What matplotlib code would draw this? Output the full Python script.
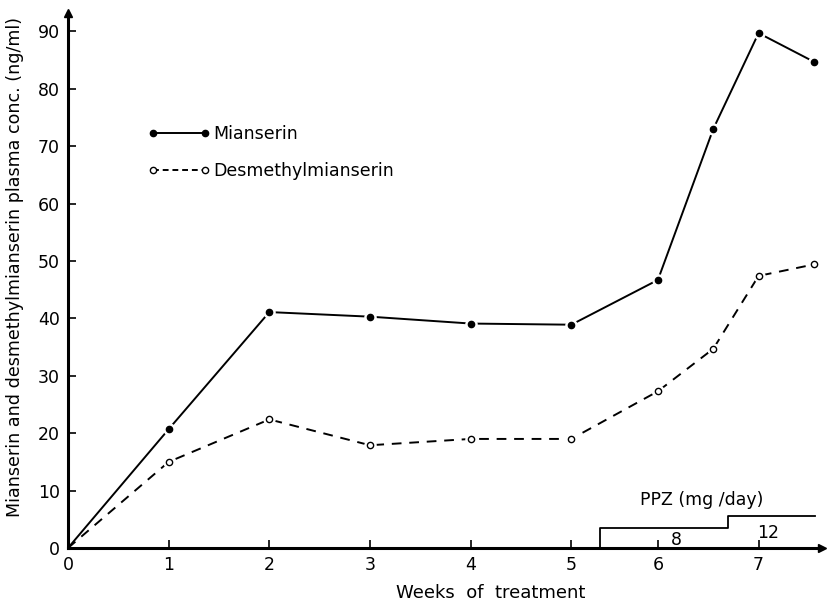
import numpy as np
import matplotlib
matplotlib.use("Agg")
import matplotlib.pyplot as plt
from matplotlib.lines import Line2D

# values
weeks = [0, 1, 2, 3, 4, 5, 6, 6.55, 7, 7.55]
mianserin = [0, 20.7, 41.1, 40.3, 39.1, 38.9, 46.7, 73.0, 89.7, 84.7]
desmethyl = [0, 15.0, 22.4, 17.9, 19.0, 19.0, 27.3, 34.7, 47.4, 49.4]

ppz_weeks = [5.33, 5.33, 6.70, 6.70, 7.56]
ppz_level = [0, 3.5, 3.5, 5.6, 5.6]
ppz_doses = ["8", "12"]
ppz_label_x = [6.18, 7.09]
ppz_label_y = [1.4, 2.6]

x_ticks = [0, 1, 2, 3, 4, 5, 6, 7]
y_ticks = [0, 10, 20, 30, 40, 50, 60, 70, 80, 90]

# the printed axis has a shorter gap between week 5 and week 6
src = [-10, 0, 5, 6, 20]
dst = [-10, 0, 5, 5.86, 19.86]
def fwd(x):
    return np.interp(x, src, dst)
def inv(x):
    return np.interp(x, dst, src)

plt.rcParams['font.family'] = ['DejaVu Sans']
fig = plt.figure(figsize=(8.30, 6.01), dpi=100)
ax = fig.add_axes([68/830, 53/601, 754/830, 535/601])
ax.set_xscale('function', functions=(fwd, inv))

def draw(x, y, ls, face):
    ax.plot(x, y, color='black', lw=1.4, ls=ls, zorder=2)
    ax.plot(x[1:], y[1:], ls='none', marker='o', ms=8, mfc='white', mec='white', zorder=3)
    ax.plot(x[1:], y[1:], ls='none', marker='o', ms=4.5, mfc=face, mec='black', mew=1.0, zorder=4)

draw(weeks, mianserin, '-', 'black')
draw(weeks, desmethyl, (0, (5, 4)), 'white')

ax.plot(ppz_weeks, ppz_level, color='black', lw=1.3, zorder=2)
for t, x, y in zip(ppz_doses, ppz_label_x, ppz_label_y):
    ax.text(x, y, t, ha='center', va='center', fontsize=12.5)
ax.text(6.43, 8.4, "PPZ (mg /day)", ha='center', va='center', fontsize=12.5)

ax.set_xlim(0, 7.63)
ax.set_ylim(0, 93.2)
ax.set_xticks(x_ticks)
ax.set_yticks(y_ticks)
ax.tick_params(direction='in', length=6, width=1.2, labelsize=12.5, pad=6)
for s in ['top', 'right']:
    ax.spines[s].set_visible(False)
for s in ['left', 'bottom']:
    ax.spines[s].set_linewidth(2.2)
ax.plot(1, 0, '>k', ms=6, transform=ax.get_yaxis_transform(), clip_on=False)
ax.plot(0, 1, '^k', ms=6, transform=ax.get_xaxis_transform(), clip_on=False)

ax.set_xlabel("Weeks  of  treatment", fontsize=13)
ax.xaxis.set_label_coords(0.56, -0.068)
ax.set_ylabel("Mianserin and desmethylmianserin plasma conc. (ng/ml)", fontsize=12.6)
ax.yaxis.set_label_coords(-0.058, 0.525)

h1 = Line2D([], [], color='black', lw=1.4, marker='o', ms=4.5, mfc='black', mec='black')
h2 = Line2D([], [], color='black', lw=1.4, ls=(0, (3, 2)), marker='o', ms=4.5, mfc='white', mec='black')
ax.legend([h1, h2], ["Mianserin", "Desmethylmianserin"], loc='upper left',
          bbox_to_anchor=(0.085, 0.82), frameon=False, numpoints=2, handlelength=3.6,
          fontsize=12.5, labelspacing=1.1, handletextpad=0.15)

fig.savefig("out.png", dpi=100)
